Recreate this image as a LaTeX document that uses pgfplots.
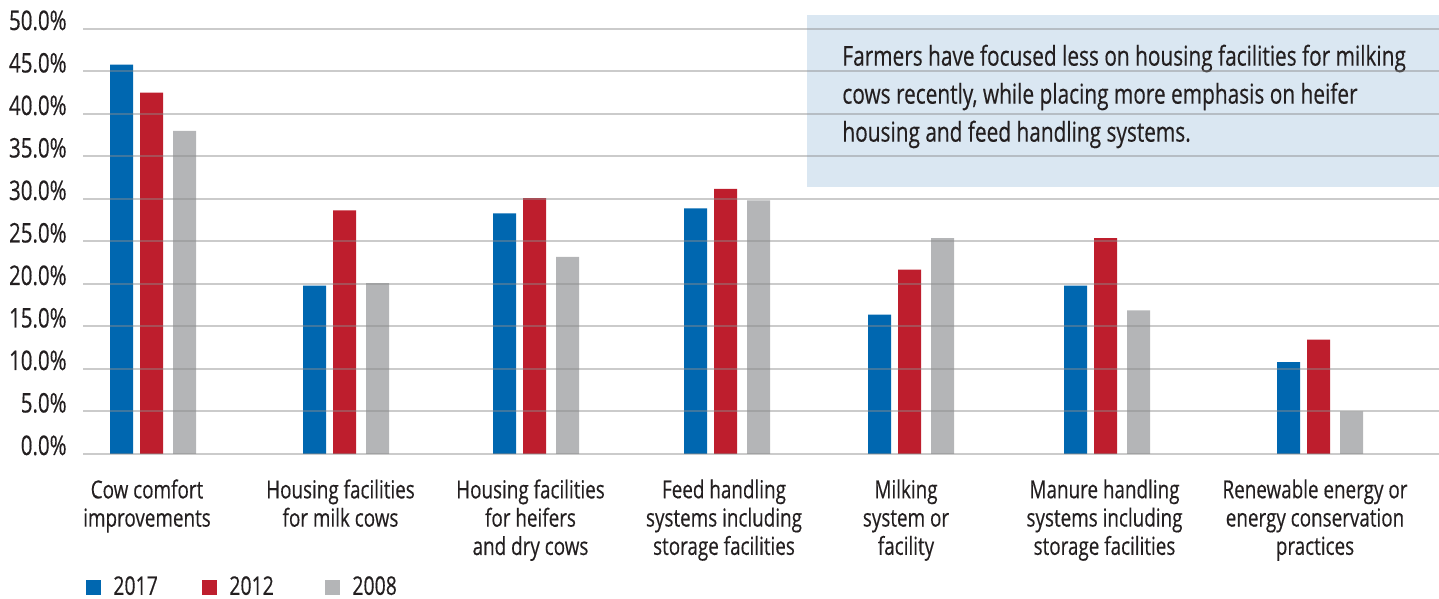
\documentclass[border=0pt]{standalone}
\usepackage{fontspec}
\setmainfont{Open Sans}[FakeStretch=0.76,FakeBold=0.35]
\usepackage{pgfplots}
\pgfplotsset{compat=1.18}
\definecolor{cBlue}{HTML}{0067B0}
\definecolor{cRed}{HTML}{BE1E2D}
\definecolor{cGray}{HTML}{B4B5B7}
\definecolor{boxBlue}{HTML}{DAE7F2}
\definecolor{txt}{HTML}{231F20}
\begin{document}
\begin{tikzpicture}
\useasboundingbox (0,0) rectangle (719.5pt,299.5pt);
\begin{axis}[
  at={(41.5pt,72.5pt)}, anchor=south west,
  x=0.5pt, y=4.25pt,
  xmin=83, xmax=1439, ymin=0, ymax=50,
  clip=false,
  axis on top,
  axis line style={draw=none},
  ybar, bar width=11.5pt,
  ytick={0,5,...,50},
  ymajorgrids,
  major grid style={line width=1pt, color=black!45, opacity=0.45},
  major tick length=0pt,
  xtick style={draw=none}, ytick style={draw=none},
  /pgf/number format/assume math mode=true,
  yticklabel={\pgfmathprintnumber[fixed,fixed zerofill,precision=1]{\tick}\%},
  yticklabel style={anchor=base east, inner sep=0pt, xshift=-8pt, yshift=-0.5pt,
    font=\fontsize{13.5}{16}\selectfont, text=txt},
  xtick={147,340.5,530.5,724,906,1104.5,1315},
  xticklabels={Cow comfort\\improvements,
    Housing facilities\\for milk cows,
    Housing facilities\\for heifers\\and dry cows,
    Feed handling\\systems including\\storage facilities,
    Milking\\system or\\facility,
    Manure handling\\systems including\\storage facilities,
    Renewable energy or\\energy conservation\\practices},
  xticklabel style={anchor=north, align=center, inner sep=0pt, yshift=-12.5pt,
    font=\fontsize{12.4}{14.15}\selectfont, text=txt},
  legend columns=3,
  legend style={at={(0.0022,-0.3130)}, anchor=west, draw=none, fill=none,
    inner sep=0pt, font=\fontsize{12.8}{16}\selectfont, text=txt,
    nodes={inner sep=0pt}},
  legend image code/.code={\fill[#1,draw=none] (0pt,-3.75pt) rectangle (7.5pt,3.75pt); \path (13.5pt,0pt);},
]
\fill[boxBlue] (axis cs:807,51.65) rectangle (axis cs:1439,31.41);
\node[anchor=north west, align=left, inner sep=0pt, text=txt,
  font=\fontsize{13.7}{19}\selectfont] at (axis cs:842,48.2)
  {Farmers have focused less on housing facilities for milking\\
   cows recently, while placing more emphasis on heifer\\
   housing and feed handling systems.};
\addplot[fill=cBlue, draw=none, bar shift=-15pt] coordinates {
 (151.5,45.8) (344.5,19.8) (534.5,28.3) (725.5,28.9) (909.5,16.4) (1105.5,19.8) (1318.5,10.8)};
\addplot[fill=cRed, draw=none, bar shift=0pt] coordinates {
 (151.5,42.5) (344.5,28.65) (534.5,30.1) (725.5,31.2) (909.5,21.7) (1105.5,25.4) (1318.5,13.45)};
\addplot[fill=cGray, draw=none, bar shift=16.5pt] coordinates {
 (151.5,38.0) (344.5,20.1) (534.5,23.2) (725.5,29.85) (909.5,25.4) (1105.5,16.9) (1318.5,5.0)};
\legend{\makebox[44.5pt][l]{2017},\makebox[48pt][l]{2012},2008}
\end{axis}
\end{tikzpicture}
\end{document}
